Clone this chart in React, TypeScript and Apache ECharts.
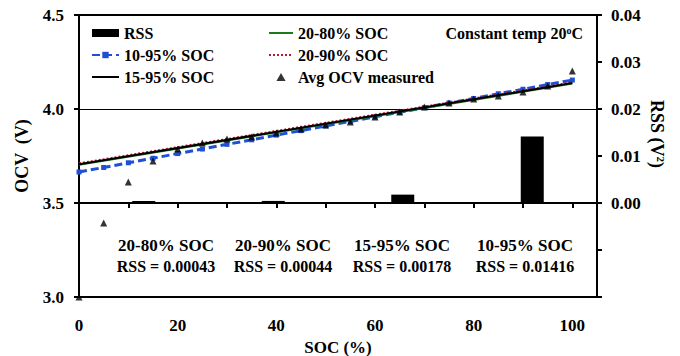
import React, { useEffect, useRef } from "react";
import * as echarts from "echarts";

const FONT = '"Liberation Serif", "Times New Roman", serif';

// Linear OCV fits over each SOC window, evaluated across 0-100 % SOC
const fitSoc = [0, 100];
const fit2080 = [3.703, 4.135];
const fit2090 = [3.711, 4.142];
const fit1595 = [3.706, 4.138];

// 10-95 % fit, evaluated at every measurement point
const socSteps = [0, 5, 10, 15, 20, 25, 30, 35, 40, 45, 50, 55, 60, 65, 70, 75, 80, 85, 90, 95, 100];
const fit1095 = [3.665, 3.689, 3.714, 3.738, 3.763, 3.787, 3.812, 3.836, 3.861, 3.885, 3.91, 3.934, 3.958, 3.983, 4.007, 4.032, 4.056, 4.081, 4.105, 4.13, 4.154];

// Average measured OCV (V)
const ocvMeasured = [3.0, 3.394, 3.612, 3.723, 3.787, 3.819, 3.84, 3.851, 3.872, 3.894, 3.915, 3.931, 3.957, 3.984, 4.011, 4.032, 4.053, 4.069, 4.09, 4.122, 4.202];

// Residual sum of squares for each fitting window (V^2)
const rssRanges = ["20-80% SOC", "20-90% SOC", "15-95% SOC", "10-95% SOC"];
const rssValues = [0.00043, 0.00044, 0.00178, 0.01416];

const annotationX = [166, 283, 402, 525];

function pairs(xs: number[], ys: number[]) {
  return xs.map((x, i) => [x, ys[i]]);
}

export default function App() {
  const ref = useRef<HTMLDivElement>(null);

  useEffect(() => {
    if (!ref.current) return;
    const chart = echarts.init(ref.current, undefined, { renderer: "svg" });
    const bold = { fontFamily: FONT, fontWeight: "bold" as const, color: "#000" };
    const hiddenMarker = { opacity: 0 };

    const annotations: any[] = [];
    rssRanges.forEach((name, i) => {
      annotations.push({
        type: "text",
        x: annotationX[i],
        y: 245,
        style: { fill: "#000", text: name, textAlign: "center", textVerticalAlign: "middle", font: `bold 17px ${FONT}` },
      });
      annotations.push({
        type: "text",
        x: annotationX[i],
        y: 266,
        style: { fill: "#000", text: `RSS = ${rssValues[i].toFixed(5)}`, textAlign: "center", textVerticalAlign: "middle", font: `bold 16px ${FONT}` },
      });
    });

    chart.setOption({
      animation: false,
      backgroundColor: "#fff",
      grid: {
        left: 79,
        right: 83,
        top: 15,
        bottom: 59,
        outerBoundsMode: "none",
        containLabel: false,
        show: true,
        borderColor: "#000",
        borderWidth: 2,
        backgroundColor: "transparent",
      },
      legend: [
        {
          orient: "vertical",
          left: 86,
          top: 20,
          itemWidth: 27,
          itemHeight: 8,
          itemGap: 6,
          itemTextGap: 4,
          textStyle: { ...bold, fontSize: 16 },
          data: [
            { name: "RSS", icon: "rect" },
            "10-95% SOC",
            { name: "15-95% SOC", itemStyle: hiddenMarker },
          ],
        },
        {
          orient: "vertical",
          left: 263,
          top: 20,
          itemWidth: 24,
          itemHeight: 8,
          itemGap: 6,
          itemTextGap: 6,
          textStyle: { ...bold, fontSize: 16 },
          data: [
            { name: "20-80% SOC", itemStyle: hiddenMarker },
            { name: "20-90% SOC", itemStyle: hiddenMarker },
            { name: "Avg OCV measured", icon: "path://M4,0 L8,7 L0,7 Z" },
          ],
        },
      ],
      xAxis: [
        {
          type: "value",
          min: 0,
          max: 105,
          interval: 10,
          name: "SOC (%)",
          nameLocation: "middle",
          nameGap: 39,
          nameTextStyle: { ...bold, fontSize: 17 },
          axisLine: { lineStyle: { color: "#000", width: 2 } },
          axisTick: { show: true, length: 5, lineStyle: { color: "#000", width: 2 } },
          axisLabel: {
            ...bold,
            fontSize: 17,
            margin: 20,
            formatter: (v: number) => (v % 20 === 0 && v <= 100 ? String(v) : ""),
          },
          splitLine: { show: false },
        },
        {
          type: "category",
          data: rssRanges,
          show: false,
          boundaryGap: true,
        },
      ],
      yAxis: [
        {
          type: "value",
          min: 3.0,
          max: 4.5,
          interval: 0.5,
          name: "OCV  (V)",
          nameLocation: "middle",
          nameGap: 48,
          nameRotate: 90,
          nameTextStyle: { ...bold, fontSize: 18 },
          axisLine: { show: true, lineStyle: { color: "#000", width: 2 } },
          axisTick: { show: true, length: 5, lineStyle: { color: "#000", width: 2 } },
          axisLabel: { ...bold, fontSize: 17, margin: 15, formatter: (v: number) => v.toFixed(1) },
          splitLine: { show: true, lineStyle: { color: "#000", width: 1 } },
        },
        {
          type: "value",
          position: "right",
          min: -0.02,
          max: 0.04,
          interval: 0.01,
          axisLine: { show: true, lineStyle: { color: "#000", width: 2 } },
          axisTick: { show: true, length: 5, lineStyle: { color: "#000", width: 2 } },
          axisLabel: {
            ...bold,
            fontSize: 17,
            margin: 14,
            formatter: (v: number) => (v > -0.005 ? v.toFixed(2) : ""),
          },
          splitLine: { show: false },
        },
      ],
      graphic: [
        ...annotations,
        {
          type: "text",
          x: 583,
          y: 33,
          style: {
            text: "{b|Constant temp 20}{s|o}{b|C}",
            textAlign: "right",
            textVerticalAlign: "middle",
            rich: {
              b: { fontFamily: FONT, fontWeight: "bold", fontSize: 16, fill: "#000", color: "#000" },
              s: { fontFamily: FONT, fontWeight: "bold", fontSize: 10, fill: "#000", color: "#000", verticalAlign: "top", padding: [0, 0, 6, 0] },
            },
          },
        },
        {
          type: "text",
          x: 657,
          y: 134,
          rotation: -Math.PI / 2,
          style: {
            text: "{b|RSS (V}{s|2}{b|)}",
            textAlign: "center",
            textVerticalAlign: "middle",
            rich: {
              b: { fontFamily: FONT, fontWeight: "bold", fontSize: 18, fill: "#000", color: "#000" },
              s: { fontFamily: FONT, fontWeight: "bold", fontSize: 11, fill: "#000", color: "#000", verticalAlign: "top", padding: [0, 0, 7, 0] },
            },
          },
        },
      ],
      series: [
        {
          name: "RSS",
          type: "bar",
          xAxisIndex: 1,
          yAxisIndex: 1,
          data: rssValues,
          barWidth: 23,
          itemStyle: { color: "#000" },
          z: 1,
        },
        {
          name: "10-95% SOC",
          type: "line",
          data: pairs(socSteps, fit1095),
          symbol: "rect",
          symbolSize: 5,
          itemStyle: { color: "#1f4fd6" },
          lineStyle: { color: "#1f4fd6", width: 3, type: [8, 4] },
          z: 2,
        },
        {
          name: "20-80% SOC",
          type: "line",
          data: pairs(fitSoc, fit2080),
          symbol: "none",
          itemStyle: { color: "#1c7a1c" },
          lineStyle: { color: "#1c7a1c", width: 2 },
          z: 3,
        },
        {
          name: "20-90% SOC",
          type: "line",
          data: pairs(fitSoc, fit2090),
          symbol: "none",
          itemStyle: { color: "#c0143c" },
          lineStyle: { color: "#c0143c", width: 2, type: [2, 2] },
          z: 4,
        },
        {
          name: "15-95% SOC",
          type: "line",
          data: pairs(fitSoc, fit1595),
          symbol: "none",
          itemStyle: { color: "#000" },
          lineStyle: { color: "#000", width: 2 },
          z: 5,
        },
        {
          name: "Avg OCV measured",
          type: "scatter",
          data: pairs(socSteps, ocvMeasured),
          symbol: "triangle",
          symbolSize: 7,
          itemStyle: { color: "#000" },
          z: 6,
        },
      ],
    });
    return () => chart.dispose();
  }, []);

  return <div ref={ref} style={{ width: 680, height: 356, marginLeft: -8, marginTop: -8 }} />;
}
